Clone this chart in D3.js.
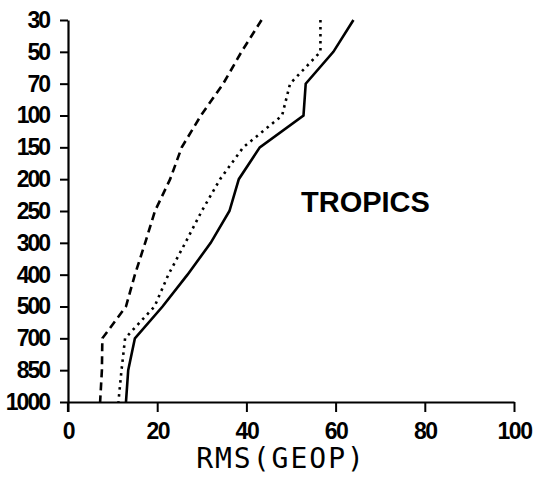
<!DOCTYPE html>
<html>
<head>
<meta charset="utf-8">
<script src="https://cdnjs.cloudflare.com/ajax/libs/d3/7.8.5/d3.min.js"></script>
<style>
  html, body { margin: 0; padding: 0; background: #fff; }
  svg { display: block; }
</style>
</head>
<body>
<svg id="chart" width="536" height="484"></svg>
<script>
// ---- data ----
const levels = [30, 50, 70, 100, 150, 200, 250, 300, 400, 500, 700, 850, 1000];
const dashedSeries = [43.4, 38.9, 34.8, 29.8, 25.5, 22.9, 19.5, 17.3, 15.0, 13.0, 7.7, 7.6, 7.2];
const dottedSeries = [56.6, 56.6, 49.8, 48.0, 39.3, 34.1, 30.0, 26.3, 22.5, 19.4, 12.8, 12.0, 11.3];
const solidSeries  = [64.0, 59.5, 53.3, 52.8, 43.0, 38.3, 36.2, 32.0, 26.8, 21.2, 15.0, 13.5, 13.0];
const xTicks = [0, 20, 40, 60, 80, 100];
const xTitle = "RMS(GEOP)";
const regionLabel = "TROPICS";

// ---- layout ----
const svg = d3.select("#chart");
const plotLeft = 68, plotRight = 514, plotTop = 20, plotBottom = 402;

const x = d3.scaleLinear().domain([0, 100]).range([plotLeft, plotRight]);
const y = d3.scalePoint().domain(levels.map(String)).range([plotTop, plotBottom]);

const labelFont = "'Liberation Sans', Arial, sans-serif";

// y axis
const yAxis = svg.append("g")
  .attr("transform", `translate(${plotLeft},0)`)
  .call(d3.axisLeft(y).tickSize(8).tickSizeOuter(0).tickPadding(8));
yAxis.select(".domain").attr("stroke", "#000").attr("stroke-width", 2.2);
yAxis.selectAll(".tick line").attr("stroke", "#000").attr("stroke-width", 2);
yAxis.selectAll(".tick text")
  .attr("fill", "#000")
  .attr("dx", "-3")
  .style("font-family", labelFont)
  .style("font-size", "23px")
  .style("font-weight", "bold")
  .style("letter-spacing", "-2px");

// x axis
const xAxis = svg.append("g")
  .attr("transform", `translate(0,${plotBottom})`)
  .call(d3.axisBottom(x).tickValues(xTicks).tickSize(10).tickSizeOuter(0).tickPadding(11));
xAxis.select(".domain").attr("stroke", "#000").attr("stroke-width", 2.2);
xAxis.selectAll(".tick line").attr("stroke", "#000").attr("stroke-width", 2);
xAxis.selectAll(".tick text")
  .attr("fill", "#000")
  .style("font-family", labelFont)
  .style("font-size", "23px")
  .style("font-weight", "bold")
  .style("letter-spacing", "-1.5px");

// extend y axis down to the x-axis tick bottom
svg.append("line")
  .attr("x1", x(0)).attr("x2", x(0))
  .attr("y1", plotBottom).attr("y2", plotBottom + 10)
  .attr("stroke", "#000").attr("stroke-width", 2.2);

// x title
svg.append("text")
  .attr("x", 281)
  .attr("y", 468)
  .attr("text-anchor", "middle")
  .style("font-family", "'DejaVu Sans Mono', monospace")
  .style("font-size", "28px")
  .style("letter-spacing", "2px")
  .attr("fill", "#000")
  .text(xTitle);

// region label
svg.append("text")
  .attr("x", 301)
  .attr("y", 212)
  .style("font-family", labelFont)
  .style("font-size", "29px")
  .style("font-weight", "bold")
  .attr("fill", "#000")
  .text(regionLabel);

// ---- lines ----
const line = d3.line()
  .x(d => x(d[1]))
  .y(d => y(String(d[0])));

const series = [
  { values: dashedSeries, dash: "8,5" },
  { values: dottedSeries, dash: "2.5,4.5" },
  { values: solidSeries,  dash: null }
];

series.forEach(s => {
  svg.append("path")
    .datum(levels.map((lv, i) => [lv, s.values[i]]))
    .attr("d", line)
    .attr("fill", "none")
    .attr("stroke", "#000")
    .attr("stroke-width", 2.6)
    .attr("stroke-dasharray", s.dash);
});
</script>
</body>
</html>
